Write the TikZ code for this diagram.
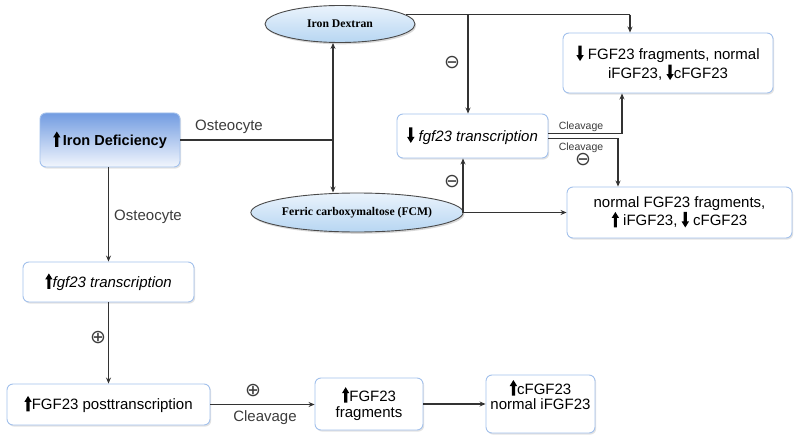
\documentclass[tikz,border=0pt]{standalone}
\usepackage{fontspec}
\setmainfont{Liberation Sans}
\newfontfamily\serifb{Liberation Serif}
\newfontfamily\dvs{DejaVu Sans}
\usetikzlibrary{shapes.geometric,arrows.meta,shadows}
\definecolor{boxb}{HTML}{A3C1EC}
\definecolor{ellb}{HTML}{4A4A4A}
\definecolor{linec}{HTML}{333333}
\definecolor{labc}{HTML}{3C3C3C}
\definecolor{idtop}{HTML}{729CE1}
\definecolor{idbot}{HTML}{F2F6FD}
\definecolor{eltop}{HTML}{EAF3FC}
\definecolor{elbot}{HTML}{B7D6F2}
\newsavebox\upbox
\newsavebox\dnbox
\newcommand\UA{\raisebox{-1.5pt}{\usebox\upbox}}
\newcommand\DA{\raisebox{-1.5pt}{\usebox\dnbox}}
\begin{document}
\sbox\upbox{\begin{pgfpicture}%
\pgfpathmoveto{\pgfpoint{-1.6pt}{0pt}}\pgfpathlineto{\pgfpoint{1.6pt}{0pt}}%
\pgfpathlineto{\pgfpoint{1.6pt}{9.5pt}}\pgfpathlineto{\pgfpoint{3.7pt}{9.5pt}}%
\pgfpathlineto{\pgfpoint{0pt}{15.5pt}}\pgfpathlineto{\pgfpoint{-3.7pt}{9.5pt}}%
\pgfpathlineto{\pgfpoint{-1.6pt}{9.5pt}}\pgfpathclose\pgfusepath{fill}%
\end{pgfpicture}}
\sbox\dnbox{\begin{pgfpicture}%
\pgfpathmoveto{\pgfpoint{-1.6pt}{15.5pt}}\pgfpathlineto{\pgfpoint{1.6pt}{15.5pt}}%
\pgfpathlineto{\pgfpoint{1.6pt}{6pt}}\pgfpathlineto{\pgfpoint{3.7pt}{6pt}}%
\pgfpathlineto{\pgfpoint{0pt}{0pt}}\pgfpathlineto{\pgfpoint{-3.7pt}{6pt}}%
\pgfpathlineto{\pgfpoint{-1.6pt}{6pt}}\pgfpathclose\pgfusepath{fill}%
\end{pgfpicture}}
\begin{tikzpicture}[x=1pt,y=-1pt,
  box/.style={draw=boxb, line width=0.9pt, rounded corners=6pt, fill=white, align=center,
    drop shadow={shadow xshift=1.2pt,shadow yshift=-1.6pt,opacity=0.22},
    font=\fontsize{15}{18}\selectfont, inner sep=0pt},
  ell/.style={ellipse, draw=ellb, line width=0.9pt, top color=eltop, bottom color=elbot,
    drop shadow={shadow xshift=1.2pt,shadow yshift=-1.8pt,opacity=0.3},
    font=\serifb\bfseries\fontsize{11.7}{14}\selectfont, inner sep=0pt},
  conn/.style={draw=linec, line width=1.1pt},
  arr/.style={conn, -{Stealth[length=6pt,width=5pt]}},
  lab/.style={font=\fontsize{15}{18}\selectfont, text=labc, inner sep=0pt},
  slab/.style={font=\fontsize{10.5}{12}\selectfont, text=labc, inner sep=0pt},
  sign/.style={font=\dvs\fontsize{19}{19}\selectfont, text=labc, inner sep=0pt}
]
\useasboundingbox[fill=white] (0,0) rectangle (800,441);

% nodes
\node[box, top color=idtop, bottom color=idbot, minimum width=140pt, minimum height=54pt,
  font=\bfseries\fontsize{14.5}{17}\selectfont] (idef) at (110,140) {\UA\,Iron Deficiency};
\node[ell, minimum width=150pt, minimum height=37pt] (dex) at (340,24) {Iron Dextran};
\node[ell, minimum width=190pt, minimum height=39pt] (fcm) at (357,212.5) {Ferric carboxymaltose (FCM)};
\node[box, minimum width=151pt, minimum height=44pt] (dtr) at (472.5,136) {\DA\ \textit{fgf23 transcription}};
\node[box, minimum width=210pt, minimum height=60pt, font=\fontsize{15}{19}\selectfont] (trf) at (668,63)
  {\DA\ FGF23 fragments, normal\\iFGF23, \DA cFGF23};
\node[box, minimum width=225pt, minimum height=51pt] (brb) at (679.5,212.5)
  {normal FGF23 fragments,\\\UA\ iFGF23, \DA\ cFGF23};
\node[box, minimum width=171pt, minimum height=40pt] (utr) at (108.5,282) {\UA\textit{fgf23 transcription}};
\node[box, minimum width=203pt, minimum height=41pt] (post) at (108.5,404.5) {\UA FGF23 posttranscription};
\node[box, minimum width=108pt, minimum height=52pt, font=\fontsize{15}{16.5}\selectfont] (frag) at (369,404) {\UA FGF23\\fragments};
\node[box, minimum width=109pt, minimum height=58pt, font=\fontsize{15}{15.5}\selectfont] (last) at (540.5,404)
  {\UA cFGF23\\normal iFGF23\\[3pt]\mbox{}};

% helper coordinates
\coordinate (J1) at (333,140);
\coordinate (T1) at (468,0);
\coordinate (T2) at (630,0);
\coordinate (F1) at (463,0);
\coordinate (C1) at (622,0);
\coordinate (C2) at (618,0);

% connectors
\draw[conn] (idef.east) -- (J1);
\draw[arr] (J1) -- (J1 |- dex.south);
\draw[arr] (J1) -- (J1 |- fcm.north);
\draw[conn] (dex.8) -- (dex.8 -| T2);
\draw[arr] (dex.8 -| T2) -- (T2 |- trf.north);
\draw[arr] (dex.8 -| T1) -- (T1 |- dtr.north);
\draw[arr] (fcm.east) -- (brb.west);
\draw[arr] (fcm.east -| F1) -- (F1 |- dtr.south);
\draw[arr] ([yshift=2.5pt]dtr.east) -| (C1 |- trf.south);
\draw[arr] ([yshift=-2.5pt]dtr.east) -| (C2 |- brb.north);
\draw[arr] (utr.north |- idef.south) -- (utr.north);
\draw[arr] (utr.south) -- (utr.south |- post.north);
\draw[arr] (post.east) -- (post.east -| frag.west);
\draw[arr] (frag.east) -- (frag.east -| last.west);

% labels
\node[lab] (l1) at (229,127) {Osteocyte};
\node[lab] (l2) at (148,217) {Osteocyte};
\node[slab] (l3) at (581,127) {Cleavage};
\node[slab] (l4) at (581,148) {Cleavage};
\node[lab] (l5) at (265,418) {Cleavage};
\node[sign] (s1) at (452,63) {⊖};
\node[sign] (s2) at (452,182) {⊖};
\node[sign] (s3) at (583,160) {⊖};
\node[sign] (s4) at (98,338) {⊕};
\node[sign] (s5) at (253,391) {⊕};
\end{tikzpicture}
\end{document}
